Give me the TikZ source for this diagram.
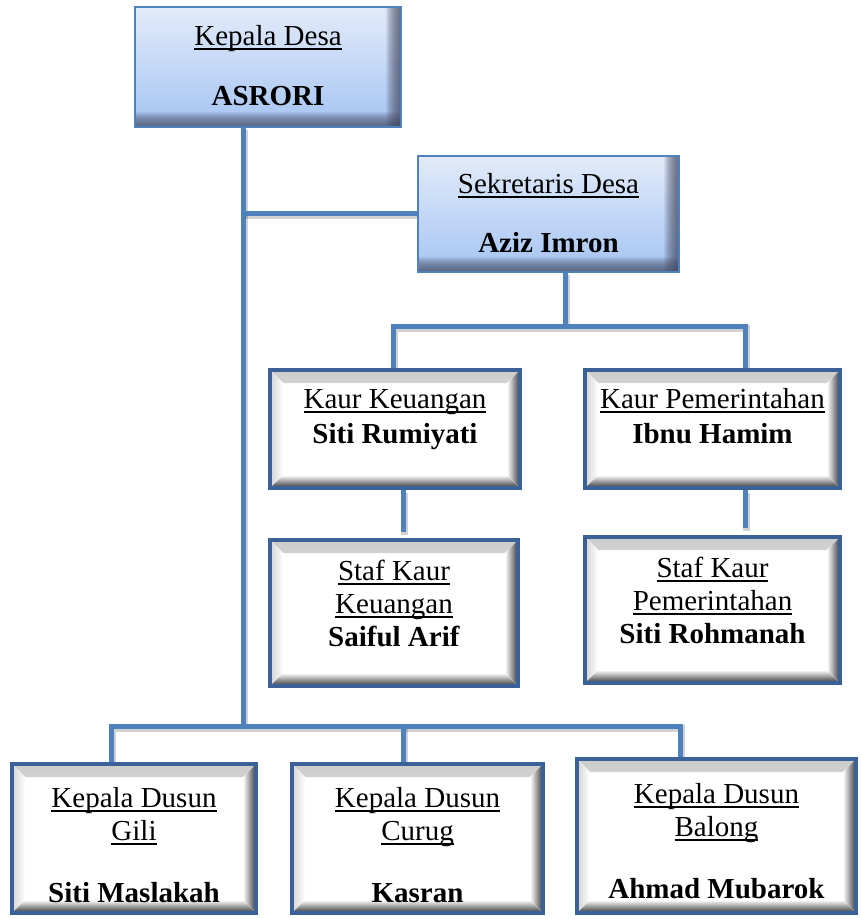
\documentclass[tikz,border=0pt]{standalone}
\usepackage{fontspec}
\setmainfont{Liberation Serif}
\usetikzlibrary{calc}
\pgfdeclarelayer{background}
\pgfsetlayers{background,main}
\definecolor{linkblue}{RGB}{79,129,189}
\definecolor{bevelblue}{RGB}{58,98,152}
\definecolor{bluetop}{RGB}{226,235,250}
\definecolor{bluebot}{RGB}{165,196,242}
\definecolor{shadowc}{RGB}{70,76,100}
\newcommand\ulx[1]{\setbox0\hbox{#1}\rlap{\rule[-4.5pt]{\wd0}{1.5pt}}\box0}
\begin{document}
\begin{tikzpicture}[x=1pt,y=-1pt,
  blue box/.style={rectangle, inner sep=0pt, draw=linkblue, line width=1.5pt,
    top color=bluetop, bottom color=bluebot,
    path picture={
      \foreach \i in {1,...,15}{
        \fill[shadowc, opacity=.085] ($(path picture bounding box.north east)+(-\i,0)$) rectangle (path picture bounding box.south east);
        \fill[shadowc, opacity=.085] ($(path picture bounding box.south west)+(0,-\i)$) rectangle (path picture bounding box.south east);
      }
    }},
  bevel box/.style={rectangle, inner sep=0pt, draw=bevelblue, line width=4pt, fill=white,
    path picture={
      \fill[top color=gray!40, bottom color=white]
        ($(path picture bounding box.north west)+(2,2)$) -- ($(path picture bounding box.north east)+(-2,2)$)
        -- ($(path picture bounding box.north east)+(-13,13)$) -- ($(path picture bounding box.north west)+(13,13)$) -- cycle;
      \fill[left color=gray!30, right color=white]
        ($(path picture bounding box.north west)+(2,2)$) -- ($(path picture bounding box.north west)+(13,13)$)
        -- ($(path picture bounding box.south west)+(13,-13)$) -- ($(path picture bounding box.south west)+(2,-2)$) -- cycle;
      \fill[left color=white, right color=gray!70!black]
        ($(path picture bounding box.north east)+(-2,2)$) -- ($(path picture bounding box.south east)+(-2,-2)$)
        -- ($(path picture bounding box.south east)+(-13,-13)$) -- ($(path picture bounding box.north east)+(-13,13)$) -- cycle;
      \fill[top color=white, bottom color=gray!65!black]
        ($(path picture bounding box.south west)+(2,-2)$) -- ($(path picture bounding box.south west)+(13,-13)$)
        -- ($(path picture bounding box.south east)+(-13,-13)$) -- ($(path picture bounding box.south east)+(-2,-2)$) -- cycle;
    }},
  txt/.style={anchor=base, inner sep=0pt, font=\fontsize{29}{33}\selectfont},
  link/.style={draw=linkblue, line width=5pt,
    preaction={draw=black, opacity=.18, line width=7pt, transform canvas={shift={(1.5pt,-2.5pt)}}}}
]
\useasboundingbox (0,0) rectangle (861,919);

% boxes
\node[blue box, minimum width=266, minimum height=120] (kd) at (268,67) {};
\node[txt] (kd-t) at (268,45) {\begin{tabular}[t]{@{}c@{}}\ulx{Kepala Desa}\\[27pt]\textbf{ASRORI}\end{tabular}};

\node[blue box, minimum width=261, minimum height=116] (sd) at (548.5,214) {};
\node[txt] (sd-t) at (548.5,193) {\begin{tabular}[t]{@{}c@{}}\ulx{Sekretaris Desa}\\[26pt]\textbf{Aziz Imron}\end{tabular}};

\node[bevel box, minimum width=250, minimum height=118] (kk) at (395,429) {};
\node[txt] (kk-t) at (395,408) {\begin{tabular}[t]{@{}c@{}}\ulx{Kaur Keuangan}\\[2pt]\textbf{Siti Rumiyati}\end{tabular}};

\node[bevel box, minimum width=255, minimum height=118] (kp) at (712.5,429) {};
\node[txt] (kp-t) at (712.5,408) {\begin{tabular}[t]{@{}c@{}}\ulx{Kaur Pemerintahan}\\[2pt]\textbf{Ibnu Hamim}\end{tabular}};

\node[bevel box, minimum width=248, minimum height=146] (sk) at (394,613) {};
\node[txt] (sk-t) at (394,580) {\begin{tabular}[t]{@{}c@{}}\ulx{Staf Kaur}\\\ulx{Keuangan}\\\textbf{Saiful Arif}\end{tabular}};

\node[bevel box, minimum width=255, minimum height=146] (sp) at (712.5,610) {};
\node[txt] (sp-t) at (712.5,577) {\begin{tabular}[t]{@{}c@{}}\ulx{Staf Kaur}\\\ulx{Pemerintahan}\\\textbf{Siti Rohmanah}\end{tabular}};

\node[bevel box, minimum width=244, minimum height=149] (dg) at (134,838.5) {};
\node[txt] (dg-t) at (134,807) {\begin{tabular}[t]{@{}c@{}}\ulx{Kepala Dusun}\\\ulx{Gili}\\[29pt]\textbf{Siti Maslakah}\end{tabular}};

\node[bevel box, minimum width=251, minimum height=149] (dc) at (417.5,838.5) {};
\node[txt] (dc-t) at (417.5,807) {\begin{tabular}[t]{@{}c@{}}\ulx{Kepala Dusun}\\\ulx{Curug}\\[29pt]\textbf{Kasran}\end{tabular}};

\node[bevel box, minimum width=279, minimum height=154] (db) at (716.5,836) {};
\node[txt] (db-t) at (716.5,803) {\begin{tabular}[t]{@{}c@{}}\ulx{Kepala Dusun}\\\ulx{Balong}\\[29pt]\textbf{Ahmad Mubarok}\end{tabular}};

% junction points
\coordinate (jb) at (243,726);
\coordinate (js) at (243,213);
\coordinate (jk) at (565,326);
\coordinate (jkl) at (393,326);
\coordinate (jkr) at (745,326);
\coordinate (skstub) at (403,532);
\coordinate (spstub) at (745,528);
\coordinate (jd1) at (111,726);
\coordinate (jd2) at (403,726);
\coordinate (jd3) at (680,726);

\begin{pgfonlayer}{background}
\draw[link] (kd.south -| jb) -- (jb);
\draw[link] (js) -- (sd.west |- js);
\draw[link] (sd.south -| jk) -- (jk);
\draw[link] (kk.north -| jkl) -- (jkl) -- (jkr) -- (kp.north -| jkr);
\draw[link] (kk.south -| skstub) -- (skstub);
\draw[link] (kp.south -| spstub) -- (spstub);
\draw[link] (dg.north -| jd1) -- (jd1) -- (jd3) -- (db.north -| jd3);
\draw[link] (jd2) -- (dc.north -| jd2);
\end{pgfonlayer}
\end{tikzpicture}
\end{document}
